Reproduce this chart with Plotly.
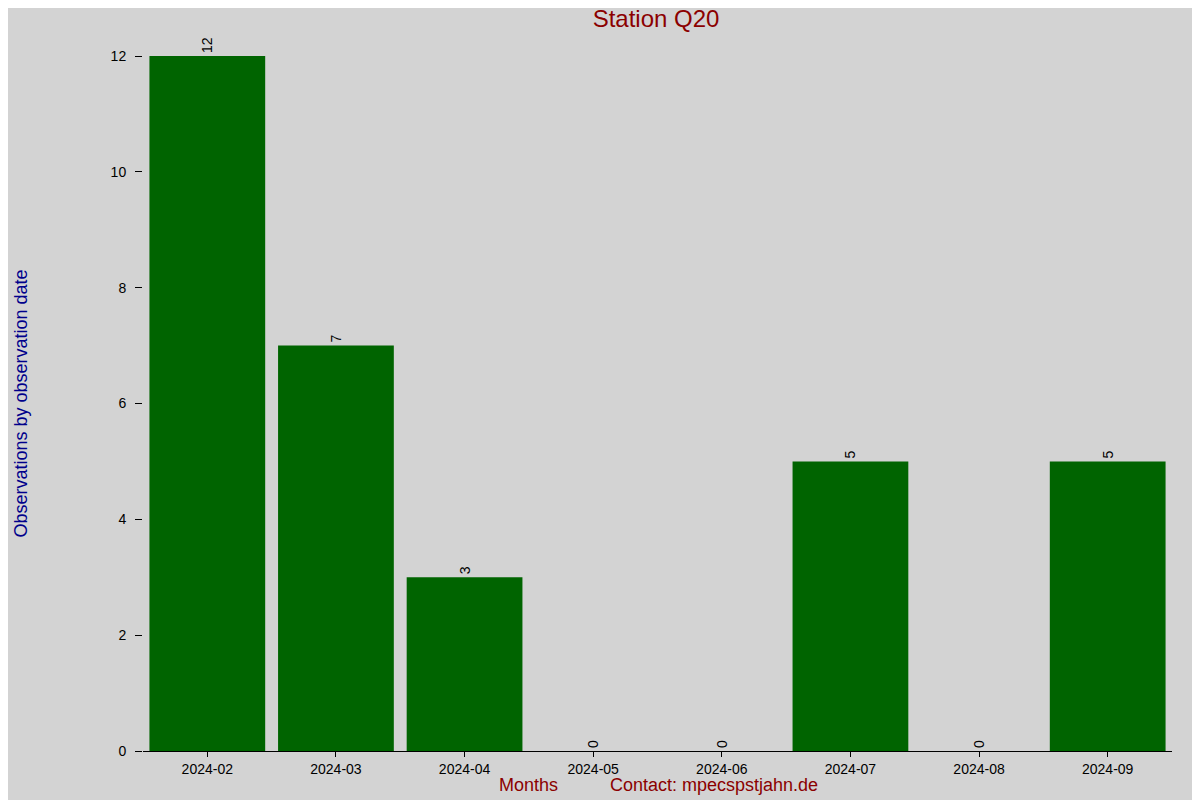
import plotly.graph_objects as go

months = ['2024-02', '2024-03', '2024-04', '2024-05', '2024-06', '2024-07', '2024-08', '2024-09']
counts = [12, 7, 3, 0, 0, 5, 0, 5]

fig = go.Figure()
fig.add_trace(go.Bar(
    x=months, y=counts, text=[str(c) for c in counts], textposition='outside',
    textangle=-90, textfont=dict(size=14, color='black'),
    marker=dict(color='#006400', line=dict(width=0)), cliponaxis=False,
))
fig.update_layout(
    width=1200, height=800,
    paper_bgcolor='#d3d3d3', plot_bgcolor='#d3d3d3',
    margin=dict(l=119, r=36, t=48, b=57),
    bargap=0.1, showlegend=False,
    font=dict(family='Liberation Sans, Arial', size=14, color='black'),
    title=dict(text='Station Q20', x=0.54, xanchor='center', y=0.997, yanchor='top',
               font=dict(size=24, color='#8b0000')),
)
fig.update_xaxes(type='category', showline=True, linecolor='black', ticks='outside', ticklen=5,
                 tickcolor='black', showgrid=False)
fig.update_yaxes(range=[0, 12], dtick=2, ticks='outside', ticklen=7, tickcolor='black',
                 showline=False, showgrid=False, zeroline=False, ticklabelstandoff=6,
                 title=dict(text='Observations by observation date',
                            font=dict(size=18, color='#00008b'), standoff=78))
fig.add_annotation(text='Months', xref='paper', yref='paper', x=0.375, y=0, yshift=-46,
                   xanchor='center', yanchor='bottom', showarrow=False,
                   font=dict(size=18, color='#8b0000'))
fig.add_annotation(text='Contact: mpecspstjahn.de', xref='paper', yref='paper', x=0.555, y=0,
                   yshift=-46, xanchor='center', yanchor='bottom', showarrow=False,
                   font=dict(size=18, color='#8b0000'))
fig.write_html('out.html')
